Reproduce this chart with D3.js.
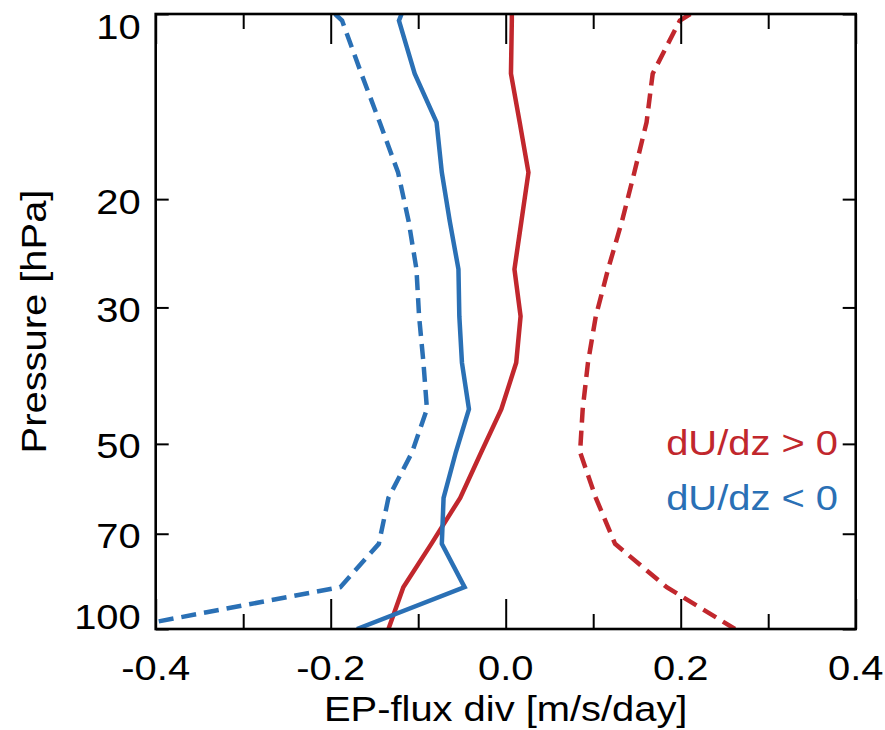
<!DOCTYPE html>
<html>
<head>
<meta charset="utf-8">
<script src="https://cdn.jsdelivr.net/npm/d3@7"></script>
<style>
  html, body { margin: 0; padding: 0; background: #fff; }
  svg { display: block; }
  text { font-family: "Liberation Sans", Arial, Helvetica, sans-serif; }
</style>
</head>
<body>
<svg id="chart" width="885" height="730"></svg>
<script>
// Pressure levels (hPa) of the profiles
const pressureLevels = [10, 10.25, 12.5, 15.0, 18.1, 21.7, 26.0, 31.0, 36.9, 43.9, 51.6, 61.2, 72.7, 85.5, 100];

// EP-flux divergence profiles [m/s/day]
const posShearSolid  = [0.007, 0.007, 0.006, 0.016, 0.026, 0.018, 0.010, 0.017, 0.012, -0.005, -0.028, -0.052, -0.085, -0.117, -0.134];
const posShearDashed = [0.211, 0.199, 0.168, 0.161, 0.147, 0.133, 0.117, 0.103, 0.094, 0.088, 0.085, 0.103, 0.125, 0.184, 0.262];
const negShearSolid  = [-0.119, -0.122, -0.104, -0.079, -0.073, -0.064, -0.054, -0.053, -0.050, -0.042, -0.057, -0.071, -0.073, -0.047, -0.170];
const negShearDashed = [-0.195, -0.187, -0.165, -0.144, -0.123, -0.111, -0.102, -0.099, -0.094, -0.090, -0.107, -0.134, -0.145, -0.189, -0.443];

// Axis ticks and labels
const xMajorTicks = [-0.4, -0.2, 0.0, 0.2, 0.4];
const xTickLabels = ["-0.4", "-0.2", "0.0", "0.2", "0.4"];
const xMinorTicks = [-0.3, -0.1, 0.1, 0.3];
const yTicks = [10, 20, 30, 50, 70, 100];
const yTickLabels = ["10", "20", "30", "50", "70", "100"];

const legendLabels = ["dU/dz > 0", "dU/dz < 0"];

const RED = "#C1272D";
const BLUE = "#2A70B5";
const FONT_SIZE = 35;
const STRETCH = 1.14;

const svg = d3.select("#chart");
const plotLeft = 155.7, plotRight = 855.7, plotTop = 14, plotBottom = 629;

const x = d3.scaleLinear().domain([-0.4, 0.4]).range([plotLeft, plotRight]);
const y = d3.scaleLog().domain([10, 100]).range([plotTop, plotBottom]);

// clip region for the profiles
svg.append("defs").append("clipPath").attr("id", "plot-clip")
  .append("rect")
  .attr("x", plotLeft).attr("y", plotTop)
  .attr("width", plotRight - plotLeft).attr("height", plotBottom - plotTop);

// helper for horizontally stretched text
function label(parent, tx, ty, str, anchor, color, rotate) {
  const g = parent.append("g")
    .attr("transform", `translate(${tx},${ty})` + (rotate ? ` rotate(${rotate})` : ""));
  g.append("text")
    .attr("transform", `scale(${STRETCH},1)`)
    .attr("text-anchor", anchor)
    .attr("font-size", FONT_SIZE)
    .attr("fill", color || "#000")
    .text(str);
  return g;
}

// profiles
const series = [
  { values: posShearDashed, color: RED, dash: "15,8" },
  { values: negShearDashed, color: BLUE, dash: "15,8" },
  { values: posShearSolid, color: RED, dash: null },
  { values: negShearSolid, color: BLUE, dash: null }
];

const line = d3.line()
  .x(d => x(d.v))
  .y(d => y(d.p));

const lines = svg.append("g").attr("clip-path", "url(#plot-clip)");
series.forEach(s => {
  const pts = pressureLevels.map((p, i) => ({ p, v: s.values[i] }));
  lines.append("path")
    .datum(pts)
    .attr("d", line)
    .attr("fill", "none")
    .attr("stroke", s.color)
    .attr("stroke-width", 4.5)
    .attr("stroke-linejoin", "miter")
    .attr("stroke-dasharray", s.dash);
});

// axes: inward ticks on all four sides
function styleAxis(g) {
  g.select(".domain").remove();
  g.selectAll(".tick line").attr("stroke", "#000").attr("stroke-width", 2);
  g.selectAll(".tick text").remove();
}

svg.append("g").attr("transform", `translate(0,${plotBottom})`)
  .call(d3.axisBottom(x).tickValues(xMajorTicks).tickSize(-30)).call(styleAxis);
svg.append("g").attr("transform", `translate(0,${plotBottom})`)
  .call(d3.axisBottom(x).tickValues(xMinorTicks).tickSize(-15)).call(styleAxis);
svg.append("g").attr("transform", `translate(0,${plotTop})`)
  .call(d3.axisTop(x).tickValues(xMajorTicks).tickSize(-30)).call(styleAxis);
svg.append("g").attr("transform", `translate(0,${plotTop})`)
  .call(d3.axisTop(x).tickValues(xMinorTicks).tickSize(-15)).call(styleAxis);
svg.append("g").attr("transform", `translate(${plotLeft},0)`)
  .call(d3.axisLeft(y).tickValues(yTicks).tickSize(-13)).call(styleAxis);
svg.append("g").attr("transform", `translate(${plotRight},0)`)
  .call(d3.axisRight(y).tickValues(yTicks).tickSize(-13)).call(styleAxis);

// frame
svg.append("rect")
  .attr("x", plotLeft).attr("y", plotTop)
  .attr("width", plotRight - plotLeft).attr("height", plotBottom - plotTop)
  .attr("fill", "none").attr("stroke", "#000").attr("stroke-width", 2.6);

// tick labels
xMajorTicks.forEach((v, i) => {
  label(svg, x(v), 680, xTickLabels[i], "middle");
});
yTicks.forEach((v, i) => {
  const cy = Math.min(Math.max(y(v) + 2, plotTop + 12), plotBottom - 13);
  label(svg, plotLeft - 15, cy + 12.5, yTickLabels[i], "end");
});

// axis titles
label(svg, (plotLeft + plotRight) / 2, 721, "EP-flux div [m/s/day]", "middle");
label(svg, 46, (plotTop + plotBottom) / 2, "Pressure [hPa]", "middle", "#000", -90);

// legend
label(svg, 838, 455, legendLabels[0], "end", RED);
label(svg, 838, 510, legendLabels[1], "end", BLUE);
</script>
</body>
</html>
